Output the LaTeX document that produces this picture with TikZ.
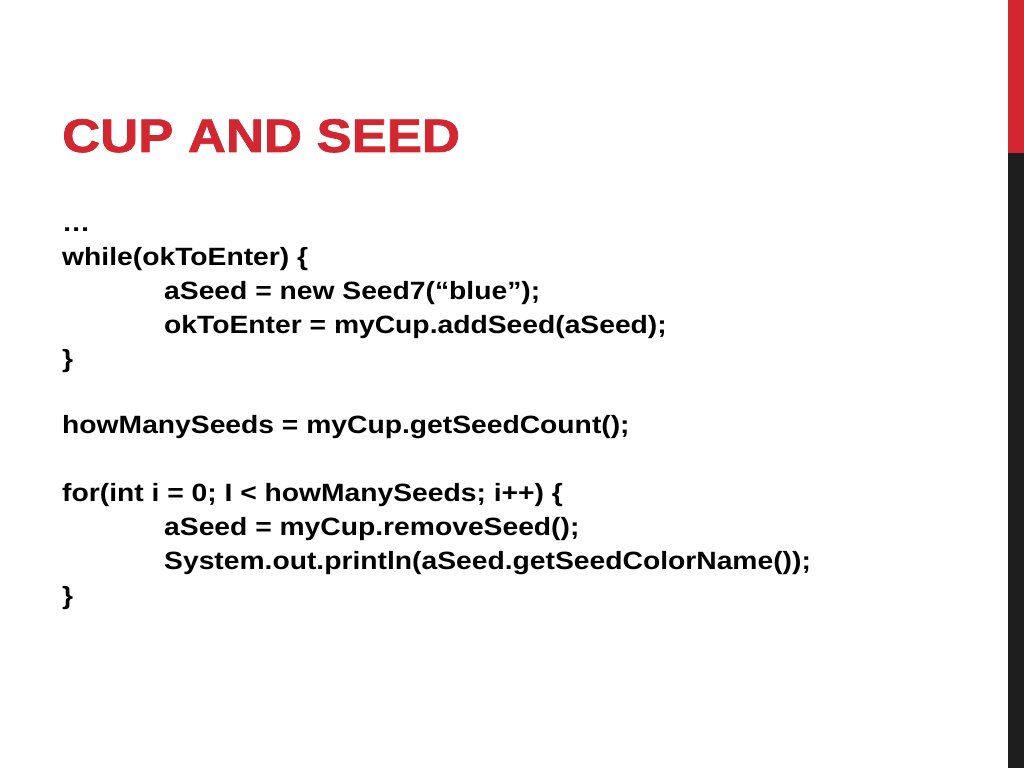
\documentclass[tikz,border=0pt]{standalone}
\usepackage{fontspec}
\setmainfont{Liberation Sans}
\newfontfamily\titlefont[FakeBold=1.5]{Liberation Sans Bold}
\definecolor{slidered}{RGB}{210,38,48}
\definecolor{bardark}{RGB}{30,30,30}
\begin{document}
\begin{tikzpicture}[x=1pt,y=1pt,
  code/.style={anchor=base west,inner sep=0pt,xscale=1.13,font=\fontsize{25}{28}\selectfont\bfseries}]
\useasboundingbox (0,0) rectangle (1024,768);
\fill[white] (0,0) rectangle (1024,768);
\fill[slidered] (1008,768) rectangle (1024,615);
\fill[bardark] (1008,615) rectangle (1024,0);
\node[anchor=base west,inner sep=0pt,xscale=1.12,text=slidered,font=\fontsize{47}{56}\titlefont] (title) at (62,616) {CUP AND SEED};
\node[code] (l0) at (62,536) {…};
\node[code] (l1) at (62,502) {while(okToEnter) \{};
\node[code] (l2) at (164,468) {aSeed = new Seed7(“blue”);};
\node[code] (l3) at (164,434) {okToEnter = myCup.addSeed(aSeed);};
\node[code] (l4) at (62,400) {\}};
\node[code] (l5) at (62,334) {howManySeeds = myCup.getSeedCount();};
\node[code] (l6) at (62,266) {for(int i = 0; I < howManySeeds; i++) \{};
\node[code] (l7) at (164,232) {aSeed = myCup.removeSeed();};
\node[code] (l8) at (164,198) {System.out.println(aSeed.getSeedColorName());};
\node[code] (l9) at (62,164) {\}};
\end{tikzpicture}
\end{document}
